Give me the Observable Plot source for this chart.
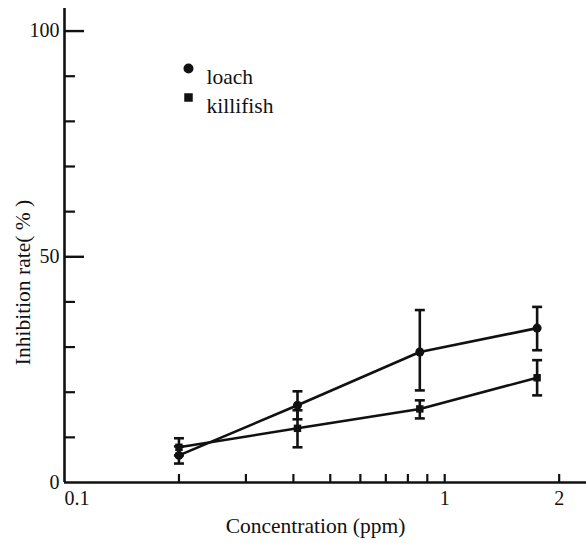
<!DOCTYPE html>
<html>
<head>
<meta charset="utf-8">
<script src="https://cdn.jsdelivr.net/npm/d3@7"></script>
<script src="https://cdn.jsdelivr.net/npm/@observablehq/plot@0.6"></script>
<style>
  html, body { margin: 0; padding: 0; background: #fff; }
  svg { display: block; }
  #chart svg text { font-family: "Liberation Serif", "Times New Roman", serif; }
</style>
</head>
<body>
<div id="chart"></div>
<script>
// ---- data ----
const concentration = [0.2, 0.41, 0.86, 1.75];          // ppm
const loach     = [6.0, 17.1, 28.9, 34.2];               // inhibition %
const loachLo   = [4.2, 14.0, 20.4, 29.3];
const loachHi   = [8.0, 20.2, 38.2, 38.9];
const killifish   = [7.8, 12.0, 16.3, 23.2];
const killifishLo = [6.0,  7.8, 14.2, 19.3];
const killifishHi = [9.8, 16.0, 18.2, 27.1];

const yTicksMinor = [10, 20, 30, 40, 60, 70, 80, 90];
const yTicksMajor = [50, 100];
const yTickLabels = [0, 50, 100];
const xTicks = [0.2, 0.3, 0.4, 0.5, 0.6, 0.7, 0.8, 0.9, 1, 2];
const xTickLabelsMid = [1, 2];
const xTickLabelFirst = [0.1];
const seriesNames = ["loach", "killifish"];

const rows = [];
concentration.forEach((c, i) => {
  rows.push({series: "loach", x: c, y: loach[i], lo: loachLo[i], hi: loachHi[i]});
  rows.push({series: "killifish", x: c, y: killifish[i], lo: killifishLo[i], hi: killifishHi[i]});
});
const loachRows = rows.filter(d => d.series === "loach");
const killiRows = rows.filter(d => d.series === "killifish");

const W = 586, H = 543;
const mL = 64, mR = 0, mT = 8, mB = 61;
const frameW = W - mL - mR, frameH = H - mT - mB;
const ink = "#111";
const serif = "Liberation Serif";

const capSymbol = {
  draw(ctx, size) {
    const w = Math.sqrt(size / Math.PI);
    ctx.moveTo(-w, 0);
    ctx.lineTo(w, 0);
  }
};

const T = {fill: ink, fontFamily: serif, fontSize: 20};
const TL = {fill: ink, fontFamily: serif, fontSize: 21.5};

const chart = Plot.plot({
  width: W,
  height: H,
  marginLeft: mL,
  marginRight: mR,
  marginTop: mT,
  marginBottom: mB,
  style: {fontFamily: serif, fontSize: "20px", color: ink, background: "#fff"},
  x: {type: "log", domain: [0.1, 2.36], axis: null},
  y: {domain: [0, 105], axis: null},
  marks: [
    // axes lines
    Plot.ruleX(xTickLabelFirst, {x: d => d, stroke: ink, strokeWidth: 2.6}),
    Plot.ruleY([0], {stroke: ink, strokeWidth: 2.6}),
    // inward ticks
    Plot.tickY(yTicksMinor, {y: d => d, stroke: ink, strokeWidth: 2.2, insetRight: frameW - 11}),
    Plot.tickY(yTicksMajor, {y: d => d, stroke: ink, strokeWidth: 2.4, insetRight: frameW - 20}),
    Plot.tickX(xTicks, {x: d => d, stroke: ink, strokeWidth: 2.2, insetTop: frameH - 8}),
    // tick labels
    Plot.text(yTickLabels, {...T, y: d => d, x: null, frameAnchor: "left", dx: -5, textAnchor: "end", text: d => String(d)}),
    Plot.text(xTickLabelsMid, {...T, x: d => d, y: null, frameAnchor: "bottom", dy: 22, text: d => String(d)}),
    Plot.text(xTickLabelFirst, {...T, x: d => d, y: null, frameAnchor: "bottom", dy: 22, textAnchor: "start", text: d => String(d)}),
    // axis titles
    Plot.text(["Concentration (ppm)"], {...TL, x: null, y: null, frameAnchor: "bottom", dx: -10, dy: 50}),
    Plot.text(["Inhibition rate( % )"], {...TL, x: null, y: null, frameAnchor: "left", textAnchor: "middle", dx: -41, dy: 37, rotate: -90}),
    // error bars
    Plot.ruleX(rows, {x: "x", y1: "lo", y2: "hi", stroke: ink, strokeWidth: 2.6}),
    Plot.dot(rows, {x: "x", y: "lo", symbol: capSymbol, r: 5, stroke: ink, strokeWidth: 2.6, fill: "none"}),
    Plot.dot(rows, {x: "x", y: "hi", symbol: capSymbol, r: 5, stroke: ink, strokeWidth: 2.6, fill: "none"}),
    // lines
    Plot.line(loachRows, {x: "x", y: "y", stroke: ink, strokeWidth: 2.6}),
    Plot.line(killiRows, {x: "x", y: "y", stroke: ink, strokeWidth: 2.6}),
    // points
    Plot.dot(loachRows, {x: "x", y: "y", symbol: "circle", r: 4.5, fill: ink, stroke: "none"}),
    Plot.dot(killiRows, {x: "x", y: "y", symbol: "square", r: 4.2, fill: ink, stroke: "none"}),
    // legend
    Plot.dot([seriesNames[0]], {x: null, y: null, frameAnchor: "top-left", dx: 124, dy: 60, symbol: "circle", r: 5, fill: ink, stroke: "none"}),
    Plot.dot([seriesNames[1]], {x: null, y: null, frameAnchor: "top-left", dx: 124, dy: 89, symbol: "square", r: 4.8, fill: ink, stroke: "none"}),
    Plot.text([seriesNames[0]], {...TL, x: null, y: null, frameAnchor: "top-left", dx: 142, dy: 60, textAnchor: "start"}),
    Plot.text([seriesNames[1]], {...TL, x: null, y: null, frameAnchor: "top-left", dx: 142, dy: 89, textAnchor: "start"})
  ]
});
document.getElementById("chart").appendChild(chart);
</script>
</body>
</html>
